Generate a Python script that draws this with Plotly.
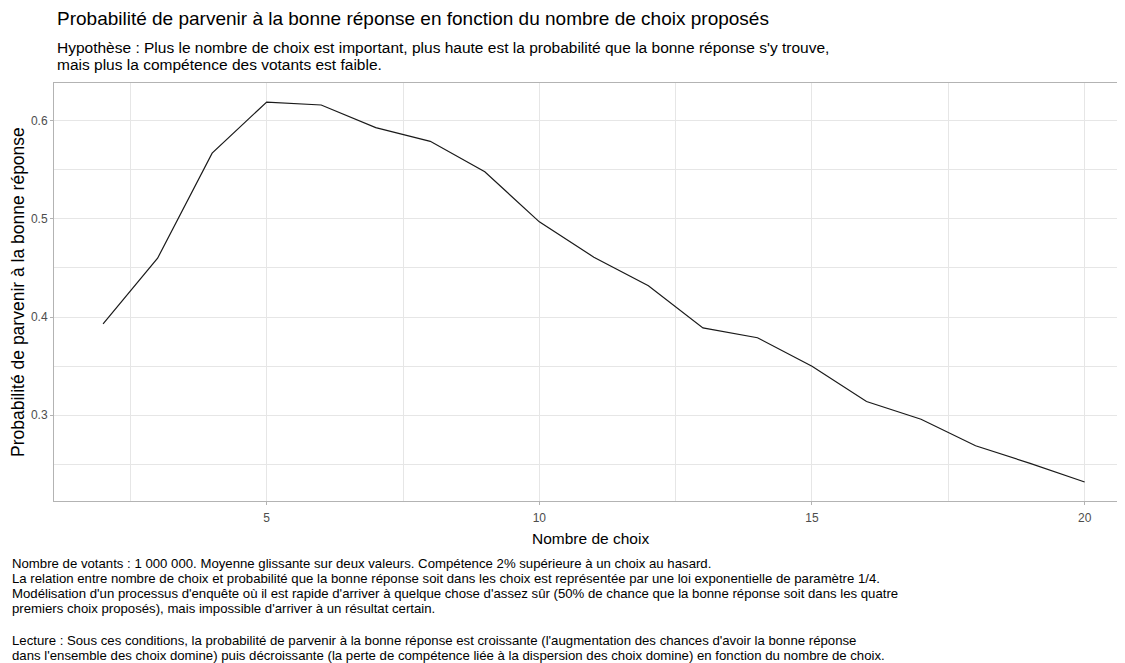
import plotly.graph_objects as go

# Data
nombre_choix = list(range(2, 21))
probabilite = [0.393, 0.460, 0.567, 0.619, 0.616, 0.593, 0.579, 0.548, 0.497, 0.461,
               0.432, 0.389, 0.379, 0.350, 0.314, 0.296, 0.269, 0.251, 0.232]

x_ticks = [5, 10, 15, 20]
y_ticks = [0.3, 0.4, 0.5, 0.6]

title = "Probabilité de parvenir à la bonne réponse en fonction du nombre de choix proposés"
subtitle_lines = [
    "Hypothèse : Plus le nombre de choix est important, plus haute est la probabilité que la bonne réponse s'y trouve,",
    "mais plus la compétence des votants est faible.",
]
caption_lines = [
    "Nombre de votants : 1 000 000. Moyenne glissante sur deux valeurs. Compétence 2% supérieure à un choix au hasard.",
    "La relation entre nombre de choix et probabilité que la bonne réponse soit dans les choix est représentée par une loi exponentielle de paramètre 1/4.",
    "Modélisation d'un processus d'enquête où il est rapide d'arriver à quelque chose d'assez sûr (50% de chance que la bonne réponse soit dans les quatre",
    "premiers choix proposés), mais impossible d'arriver à un résultat certain.",
    "",
    "Lecture : Sous ces conditions, la probabilité de parvenir à la bonne réponse est croissante (l'augmentation des chances d'avoir la bonne réponse",
    "dans l'ensemble des choix domine) puis décroissante (la perte de compétence liée à la dispersion des choix domine) en fonction du nombre de choix.",
]
x_title = "Nombre de choix"
y_title = "Probabilité de parvenir à la bonne réponse"

# page has an 8px body margin; figure drawn in the remaining area
OFF = 8
W, H = 1125 - OFF, 663 - OFF
L, R, T, B = 54 - OFF, 0, 83 - OFF, 663 - 501
PW = W - L - R
PH = H - T - B

def px(xp):
    return (xp - OFF - L) / PW

def py(yp):
    return (H - B - (yp - OFF)) / PH

FONT = "Liberation Sans, Arial, sans-serif"

fig = go.Figure()
fig.add_trace(go.Scatter(x=nombre_choix, y=probabilite, mode="lines",
                         line=dict(color="#1a1a1a", width=1.2), showlegend=False,
                         hoverinfo="x+y"))

grid = "#E6E6E6"
border = "#B3B3B3"
fig.update_xaxes(range=[1.1, 20.74], tickvals=x_ticks, ticktext=[str(v) for v in x_ticks],
                 showgrid=True, gridcolor=grid, gridwidth=1,
                 minor=dict(dtick=2.5, tick0=0, showgrid=True, gridcolor=grid, gridwidth=1),
                 showline=True, linecolor=border, linewidth=1, mirror=True,
                 ticks="outside", ticklen=3, tickcolor=border, ticklabelstandoff=3,
                 tickfont=dict(family=FONT, size=12, color="#4D4D4D"), zeroline=False)
fig.update_yaxes(range=[0.2127, 0.6384], tickvals=y_ticks, ticktext=[str(v) for v in y_ticks],
                 showgrid=True, gridcolor=grid, gridwidth=1,
                 minor=dict(dtick=0.05, tick0=0, showgrid=True, gridcolor=grid, gridwidth=1),
                 showline=True, linecolor=border, linewidth=1, mirror=False,
                 ticks="outside", ticklen=3, tickcolor=border,
                 tickfont=dict(family=FONT, size=12, color="#4D4D4D"), zeroline=False)

ann = []
ann.append(dict(text=title, x=px(55), y=py(18), xref="paper", yref="paper",
                xanchor="left", yanchor="middle", showarrow=False,
                font=dict(family=FONT, size=19, color="#000000")))
for i, s in enumerate(subtitle_lines):
    ann.append(dict(text=s, x=px(55), y=py(47 + 17 * i), xref="paper", yref="paper",
                    xanchor="left", yanchor="middle", showarrow=False,
                    font=dict(family=FONT, size=15.5, color="#000000")))
cap_y = [563, 578, 593, 608, 623, 640, 655]
for s, yy in zip(caption_lines, cap_y):
    if s:
        ann.append(dict(text=s, x=px(10), y=py(yy), xref="paper", yref="paper",
                        xanchor="left", yanchor="middle", showarrow=False,
                        font=dict(family=FONT, size=13.2, color="#000000")))
ann.append(dict(text=x_title, x=px(590), y=py(538), xref="paper", yref="paper",
                xanchor="center", yanchor="middle", showarrow=False,
                font=dict(family=FONT, size=15.5, color="#000000")))
ann.append(dict(text=y_title, x=px(18), y=py(292), xref="paper", yref="paper",
                xanchor="center", yanchor="middle", showarrow=False, textangle=-90,
                font=dict(family=FONT, size=17.5, color="#000000")))

fig.update_layout(width=W, height=H, margin=dict(l=L, r=R, t=T, b=B),
                  paper_bgcolor="white", plot_bgcolor="white",
                  annotations=ann, showlegend=False)

fig.write_html("out.html")
